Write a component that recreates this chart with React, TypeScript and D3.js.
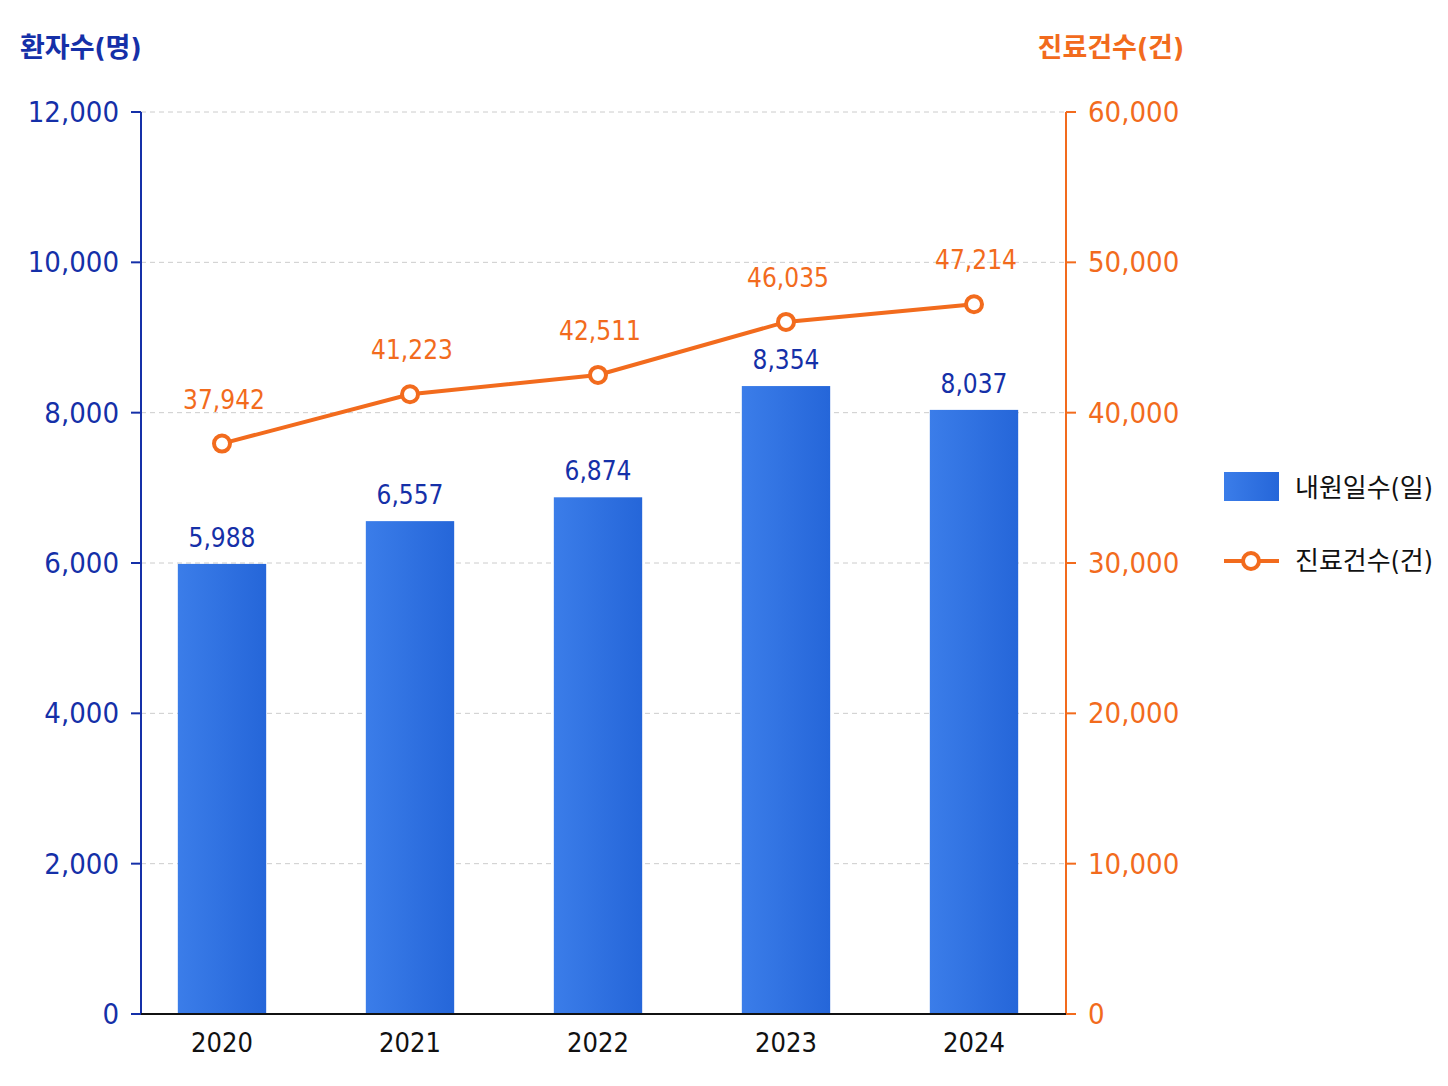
import React from "react";
import * as d3 from "d3";

const years = ["2020", "2021", "2022", "2023", "2024"];
const patients = [5988, 6557, 6874, 8354, 8037];
const cases = [37942, 41223, 42511, 46035, 47214];
const leftTicks = [0, 2000, 4000, 6000, 8000, 10000, 12000];
const rightTicks = [0, 10000, 20000, 30000, 40000, 50000, 60000];

const W = 1448, H = 1086;
const BLUE_T = "#1530a8";
const ORANGE = "#f26b1d";
const FONT = "'DejaVu Sans Condensed', 'Noto Sans CJK KR', sans-serif";

export default function App() {
  const x = d3.scaleBand<string>().domain(years).range([128, 1068]).padding(0.53).paddingOuter(0.265);
  const yL = d3.scaleLinear().domain([0, 12000]).range([1014, 112]);
  const yR = d3.scaleLinear().domain([0, 60000]).range([1014, 112]);
  const fmt = d3.format(",");
  const cx = (y: string) => (x(y) as number) + x.bandwidth() / 2;
  const line = d3.line<number>().x((_, i) => cx(years[i])).y((d) => yR(d));
  return (
    <svg width={W} height={H} style={{ position: "absolute", left: 0, top: 0, background: "#fff" }} fontFamily={FONT}>
      <defs>
        <linearGradient id="bg" x1="0" x2="1" y1="0" y2="0">
          <stop offset="0" stopColor="#3b7de9" />
          <stop offset="1" stopColor="#2566d9" />
        </linearGradient>
      </defs>
      {leftTicks.slice(1).map((t) => (
        <line key={t} x1={141} x2={1066} y1={yL(t)} y2={yL(t)} stroke="#ccc" strokeDasharray="5,4" />
      ))}
      {years.map((y, i) => (
        <g key={y}>
          <rect x={x(y)} y={yL(patients[i])} width={x.bandwidth()} height={1014 - yL(patients[i])} fill="url(#bg)" />
          <text x={cx(y)} y={yL(patients[i]) - 17} textAnchor="middle" fontSize={26} fill={BLUE_T}>{fmt(patients[i])}</text>
          <text x={cx(y)} y={1052} textAnchor="middle" fontSize={27} fill="#111">{y}</text>
        </g>
      ))}
      <line x1={141} x2={141} y1={112} y2={1014} stroke={BLUE_T} strokeWidth={2} />
      <line x1={1066} x2={1066} y1={112} y2={1014} stroke={ORANGE} strokeWidth={2} />
      <line x1={141} x2={1066} y1={1014} y2={1014} stroke="#111" strokeWidth={2} />
      {leftTicks.map((t) => (
        <g key={t}>
          <line x1={131} x2={141} y1={yL(t)} y2={yL(t)} stroke={BLUE_T} strokeWidth={2} />
          <text x={119} y={yL(t) + 10} textAnchor="end" fontSize={29} fill={BLUE_T}>{fmt(t)}</text>
        </g>
      ))}
      {rightTicks.map((t) => (
        <g key={t}>
          <line x1={1066} x2={1076} y1={yR(t)} y2={yR(t)} stroke={ORANGE} strokeWidth={2} />
          <text x={1088} y={yR(t) + 10} textAnchor="start" fontSize={29} fill={ORANGE}>{fmt(t)}</text>
        </g>
      ))}
      <path d={line(cases) as string} fill="none" stroke={ORANGE} strokeWidth={4} />
      {years.map((y, i) => (
        <g key={y}>
          <circle cx={cx(y)} cy={yR(cases[i])} r={8} fill="#fff" stroke={ORANGE} strokeWidth={4} />
          <text x={cx(y) + 2} y={yR(cases[i]) - 35} textAnchor="middle" fontSize={26} fill={ORANGE}>{fmt(cases[i])}</text>
        </g>
      ))}
      <text x={20} y={57} fontSize={27} fill={BLUE_T} fontWeight="bold">환자수(명)</text>
      <text x={1184} y={57} textAnchor="end" fontSize={27} fill={ORANGE} fontWeight="bold">진료건수(건)</text>
      <rect x={1224} y={472} width={55} height={29} fill="url(#bg)" />
      <text x={1295} y={497} fontSize={26} fill="#111">내원일수(일)</text>
      <line x1={1224} x2={1279} y1={561} y2={561} stroke={ORANGE} strokeWidth={4} />
      <circle cx={1251} cy={561} r={8} fill="#fff" stroke={ORANGE} strokeWidth={4} />
      <text x={1295} y={570} fontSize={26} fill="#111">진료건수(건)</text>
    </svg>
  );
}
